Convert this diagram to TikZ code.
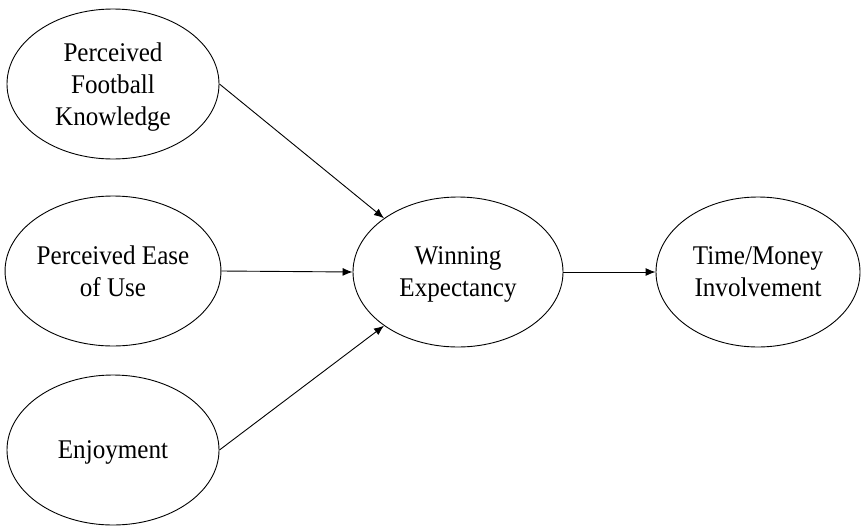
\documentclass[tikz,border=0pt]{standalone}
\usepackage{fontspec}
\setmainfont[FakeStretch=0.93]{Liberation Serif}
\usetikzlibrary{arrows.meta,shapes.geometric}
\begin{document}
\begin{tikzpicture}[
    x=1pt,y=-1pt,
    modelEll/.style={ellipse,draw=black,line width=0.9pt,minimum width=212pt,minimum height=150pt,inner sep=0pt,align=center,text depth=0pt,font=\fontsize{27}{32}\selectfont},
    modelArrow/.style={-{Latex[length=10pt,width=8pt]},line width=0.9pt},
]
\useasboundingbox (0,0) rectangle (861,525);
\node[modelEll] (knowl) at (113,84) {Perceived\\Football\\Knowledge};
\node[modelEll] (ease) at (113,271) {Perceived Ease\\of Use};
\node[modelEll] (enjoy) at (113,450) {Enjoyment};
\node[modelEll,minimum width=210pt] (winExp) at (458,272) {Winning\\Expectancy};
\node[modelEll,minimum width=204pt] (timeMoney) at (758,272) {Time/Money\\Involvement};
\draw[modelArrow] (knowl.east) -- (winExp.144);
\draw[modelArrow] (ease.east) -- (winExp.west);
\draw[modelArrow] (enjoy.east) -- (winExp.216);
\draw[modelArrow] (winExp.east) -- (timeMoney.west);
\end{tikzpicture}
\end{document}
